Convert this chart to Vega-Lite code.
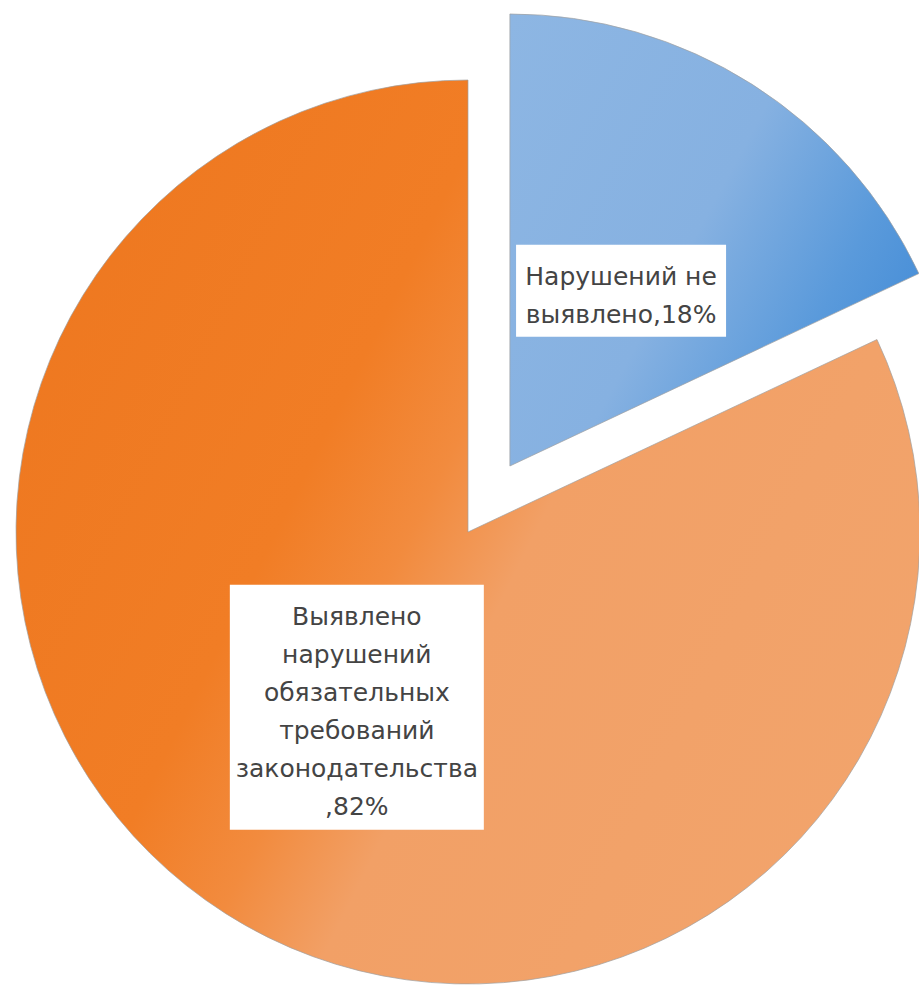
{
  "$schema": "https://vega.github.io/schema/vega-lite/v6.json",
  "width": 919,
  "height": 988,
  "padding": 0,
  "autosize": "none",
  "background": "white",
  "config": {"view": {"stroke": null}},
  "data": {
    "values": [
      {"category": "Нарушений не выявлено", "share": 18, "label": "Нарушений не\nвыявлено,18%"},
      {"category": "Выявлено нарушений обязательных требований законодательства", "share": 82, "label": "Выявлено\nнарушений\nобязательных\nтребований\nзаконодательства\n,82%"}
    ]
  },
  "transform": [
    {"stack": "share", "groupby": [], "sort": [{"field": "share", "order": "ascending"}], "as": ["v0", "v1"]},
    {"calculate": "(datum.v0 + datum.v1) / 100 * PI", "as": "mid"},
    {"calculate": "datum.category === 'Нарушений не выявлено' ? 0.173 : 0", "as": "ex"},
    {"calculate": "datum.ex * sin(datum.mid)", "as": "cx"},
    {"calculate": "datum.ex * cos(datum.mid)", "as": "cy"},
    {"calculate": "datum.cx + 0.459 * sin(datum.mid)", "as": "lx"},
    {"calculate": "datum.cy + 0.459 * cos(datum.mid)", "as": "ly"},
    {"calculate": "datum.ly + (length(split(datum.label, '\\n')) - 1) * 19 / 452", "as": "ty"}
  ],
  "layer": [
    {
      "mark": {"type": "arc", "outerRadius": 452, "stroke": "#A0A0A0", "strokeWidth": 1, "strokeOpacity": 0.7},
      "encoding": {
        "x": {"field": "cx", "type": "quantitative", "scale": {"domain": [-1.0354, 0.9978], "nice": false, "zero": false}, "axis": null},
        "y": {"field": "cy", "type": "quantitative", "scale": {"domain": [-1.0088, 1.177], "nice": false, "zero": false}, "axis": null},
        "theta": {"field": "v0", "type": "quantitative", "stack": null, "scale": {"domain": [0, 100], "range": [0, 6.283185307179586]}},
        "theta2": {"field": "v1"},
        "fill": {
          "condition": {
            "test": "datum.category === 'Нарушений не выявлено'",
            "value": {"gradient": "linear", "x1": 0, "y1": 0, "x2": 1, "y2": 0.6,
              "stops": [
                {"offset": 0, "color": "#8DB6E3"},
                {"offset": 0.55, "color": "#86B1E1"},
                {"offset": 0.85, "color": "#5A9ADB"},
                {"offset": 1, "color": "#4A90D8"}
              ]}
          },
          "value": {"gradient": "linear", "x1": 0, "y1": 0.25, "x2": 1, "y2": 0.75,
            "stops": [
              {"offset": 0, "color": "#EE7820"},
              {"offset": 0.33, "color": "#F17D25"},
              {"offset": 0.45, "color": "#F28B3E"},
              {"offset": 0.56, "color": "#F2A066"},
              {"offset": 1, "color": "#F2A46C"}
            ]}
        }
      }
    },
    {
      "mark": {"type": "point", "filled": true, "fill": "white", "opacity": 1, "strokeWidth": 0},
      "encoding": {
        "x": {"field": "lx", "type": "quantitative"},
        "y": {"field": "ly", "type": "quantitative"},
        "shape": {
          "condition": {"test": "datum.category === 'Нарушений не выявлено'", "value": "M-1,-0.438H1V0.438H-1Z"},
          "value": "M-1,-0.965H1V0.965H-1Z"
        },
        "size": {
          "condition": {"test": "datum.category === 'Нарушений не выявлено'", "value": 44100},
          "value": 64516
        }
      }
    },
    {
      "mark": {"type": "text", "font": "DejaVu Sans", "fontSize": 25, "lineHeight": 38, "lineBreak": "\n", "align": "center", "baseline": "middle", "dy": 5, "color": "#444444"},
      "encoding": {
        "x": {"field": "lx", "type": "quantitative"},
        "y": {"field": "ty", "type": "quantitative"},
        "text": {"field": "label", "type": "nominal"}
      }
    }
  ]
}
